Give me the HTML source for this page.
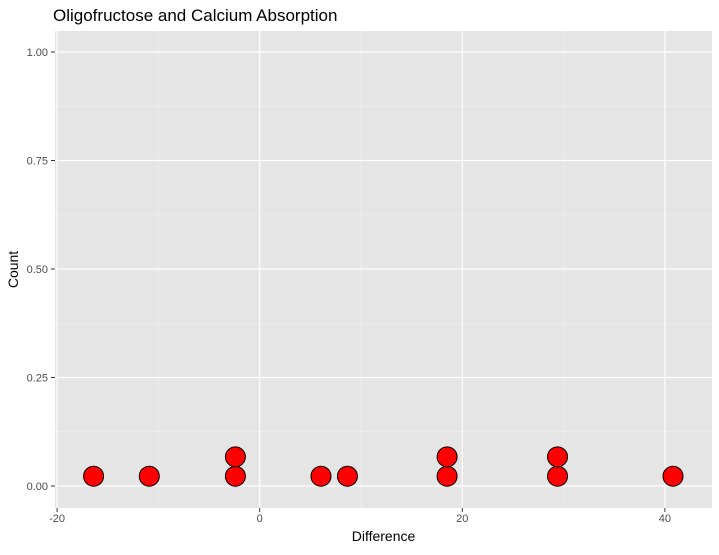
<!DOCTYPE html>
<html><head><meta charset="utf-8"><style>
body{margin:0;background:#fff;font-family:"Liberation Sans",sans-serif}
</style></head><body>
<svg id="c" width="719" height="550" xmlns="http://www.w3.org/2000/svg" font-family="Liberation Sans, sans-serif"></svg>
<script>
const diffs=[-16.4,-10.9,-2.4,6.05,8.66,18.5,29.4,40.8];
const counts=[1,1,2,1,1,2,2,1];
const xTicks=[-20,0,20,40];
const yTicks=[0,0.25,0.5,0.75,1.0];
const yLabels=["0.00","0.25","0.50","0.75","1.00"];
const NS="http://www.w3.org/2000/svg";
const svg=document.getElementById('c');
const L=55,R=712,T=31,B=508;
const x=v=>259.7+v*10.13;
const y=v=>486-v*434;
function el(t,a,p){const e=document.createElementNS(NS,t);for(const k in a)e.setAttribute(k,a[k]);(p||svg).appendChild(e);return e;}
const bg=el('rect',{x:L,y:T,width:R-L,height:B-T,fill:'#e5e5e5'});


for(let i=0;i<xTicks.length-1;i++){const m=(xTicks[i]+xTicks[i+1])/2;el('line',{x1:x(m),x2:x(m),y1:T,y2:B,stroke:'#f2f2f2','stroke-width':0.6});}
for(let i=0;i<yTicks.length-1;i++){const m=(yTicks[i]+yTicks[i+1])/2;el('line',{x1:L,x2:R,y1:y(m),y2:y(m),stroke:'#f2f2f2','stroke-width':0.6});}
xTicks.forEach(t=>{
  const g=el('line',{x1:x(t),x2:x(t),y1:T,y2:B,stroke:'#fff','stroke-width':1.2});
  
  
  el('line',{x1:x(t),x2:x(t),y1:B,y2:B+4,stroke:'#333'});
  const tx=el('text',{x:x(t),y:B+14,'text-anchor':'middle','font-size':11,fill:'#4d4d4d'});tx.textContent=t;
  
  
});
yTicks.forEach((t,i)=>{
  const g=el('line',{x1:L,x2:R,y1:y(t),y2:y(t),stroke:'#fff','stroke-width':1.2});
  
  
  el('line',{x1:L-4,x2:L,y1:y(t),y2:y(t),stroke:'#333'});
  const tx=el('text',{x:L-7,y:y(t)+4,'text-anchor':'end','font-size':11,fill:'#4d4d4d'});tx.textContent=yLabels[i];
  
  
});
const r=10, step=19.4/434;
diffs.forEach((d,i)=>{
  for(let k=0;k<counts[i];k++){
    const c=el('circle',{cx:x(d),cy:y(0.0225+k*step),r:r,fill:'#ff0000',stroke:'#000','stroke-width':1});
    
    
  }
});
const ttl=el('text',{x:L-2,y:21,'font-size':17,fill:'#000'});ttl.textContent='Oligofructose and Calcium Absorption';


const xt=el('text',{x:(L+R)/2,y:541,'text-anchor':'middle','font-size':14,fill:'#000'});xt.textContent='Difference';


const yt=el('text',{x:0,y:0,'text-anchor':'middle','font-size':14,fill:'#000',transform:`translate(18,${(T+B)/2}) rotate(-90)`});yt.textContent='Count';


</script>
</body></html>
